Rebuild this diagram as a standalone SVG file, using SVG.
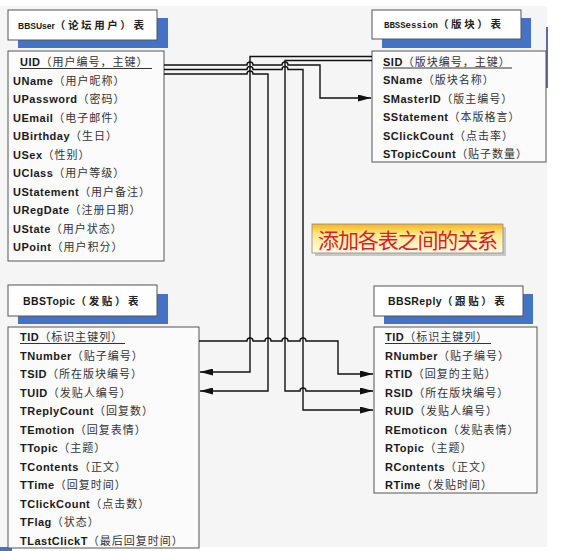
<svg xmlns="http://www.w3.org/2000/svg" width="565" height="551" viewBox="0 0 565 551">
<style>
.bg{fill:#f5f5f5}
.shadow{fill:#4472c4}
.tbox{fill:#ffffff;stroke:#555555;stroke-width:1}
.fbox{fill:#fbfbfb;stroke:#555555;stroke-width:1}
.en{font-family:"Liberation Sans",Arial,sans-serif;font-weight:bold;font-size:11px;letter-spacing:0.5px;fill:#1a1a1a}
.zh{font-family:"Noto Sans CJK SC",sans-serif;font-size:11px;letter-spacing:1px;fill:#333333}
.ten{font-family:"Liberation Sans",Arial,sans-serif;font-weight:bold;fill:#1a1a1a}
.tzh{font-family:"Noto Sans CJK SC",sans-serif;font-weight:bold;font-size:10.5px;letter-spacing:2.6px;fill:#222222}
.ul{stroke:#333333;stroke-width:1}
.conn{fill:none;stroke:#111111;stroke-width:1.4}
.callout{font-family:"Noto Sans CJK SC",sans-serif;font-size:21px;fill:#d41f30}
</style>
<defs>
<marker id="arr" markerUnits="userSpaceOnUse" markerWidth="13" markerHeight="7" refX="13" refY="3.5" orient="auto">
<path d="M0,0 L13,3.5 L0,7 z" fill="#111111"/>
</marker>
<linearGradient id="cg" x1="0" y1="0" x2="0" y2="1">
<stop offset="0" stop-color="#f6b31c"/>
<stop offset="0.35" stop-color="#fde98a"/>
<stop offset="1" stop-color="#fffbe6"/>
</linearGradient>
</defs>
<rect class="bg" x="0" y="6" width="547" height="541"/>
<line x1="547" y1="27" x2="547" y2="88" stroke="#2a3a90" stroke-width="1.5"/>
<rect x="0" y="547" width="12" height="4" fill="#3c78c8"/>

<g id="BBSUser">
<rect class="shadow" x="18" y="18" width="150" height="30"/>
<rect class="tbox" x="8" y="10" width="149" height="30"/>
<text x="18" y="29"><tspan class="ten" font-size="8.5px">BBSUser</tspan><tspan class="tzh">（论坛用户）表</tspan></text>
<rect class="fbox" x="8" y="51" width="156" height="210"/>
<text x="20" y="66"><tspan class="en">UID</tspan><tspan class="zh">（用户编号，主键）</tspan></text>
<line class="ul" x1="20" y1="68.5" x2="152" y2="68.5"/>
<text x="13" y="84.5"><tspan class="en">UName</tspan><tspan class="zh">（用户昵称）</tspan></text>
<text x="13" y="103"><tspan class="en">UPassword</tspan><tspan class="zh">（密码）</tspan></text>
<text x="13" y="121.5"><tspan class="en">UEmail</tspan><tspan class="zh">（电子邮件）</tspan></text>
<text x="13" y="140"><tspan class="en">UBirthday</tspan><tspan class="zh">（生日）</tspan></text>
<text x="13" y="158.5"><tspan class="en">USex</tspan><tspan class="zh">（性别）</tspan></text>
<text x="13" y="177"><tspan class="en">UClass</tspan><tspan class="zh">（用户等级）</tspan></text>
<text x="13" y="195.5"><tspan class="en">UStatement</tspan><tspan class="zh">（用户备注）</tspan></text>
<text x="13" y="214"><tspan class="en">URegDate</tspan><tspan class="zh">（注册日期）</tspan></text>
<text x="13" y="232.5"><tspan class="en">UState</tspan><tspan class="zh">（用户状态）</tspan></text>
<text x="13" y="251"><tspan class="en">UPoint</tspan><tspan class="zh">（用户积分）</tspan></text>
</g>

<g id="BBSSession">
<rect class="shadow" x="382" y="18" width="149" height="30"/>
<rect class="tbox" x="372" y="10" width="149" height="29"/>
<text x="384" y="28"><tspan font-family="'Liberation Mono',monospace" font-weight="bold" font-size="9px" fill="#1a1a1a">BBSSession</tspan><tspan class="tzh">（版块）表</tspan></text>
<rect class="fbox" x="372" y="51" width="174" height="111"/>
<text x="383" y="65.5"><tspan class="en">SID</tspan><tspan class="zh">（版块编号，主键）</tspan></text>
<line class="ul" x1="383" y1="68" x2="512" y2="68"/>
<text x="383" y="84"><tspan class="en">SName</tspan><tspan class="zh">（版块名称）</tspan></text>
<text x="383" y="102.5"><tspan class="en">SMasterID</tspan><tspan class="zh">（版主编号）</tspan></text>
<text x="383" y="121"><tspan class="en">SStatement</tspan><tspan class="zh">（本版格言）</tspan></text>
<text x="383" y="139.5"><tspan class="en">SClickCount</tspan><tspan class="zh">（点击率）</tspan></text>
<text x="383" y="158"><tspan class="en">STopicCount</tspan><tspan class="zh">（贴子数量）</tspan></text>
</g>

<g id="callout">
<rect x="315" y="227" width="191" height="29" fill="#c8c8c8"/>
<rect x="312" y="224" width="191" height="29" fill="url(#cg)" stroke="#8a8a8a" stroke-width="0.8"/>
<text class="callout" x="318" y="248" textLength="180" lengthAdjust="spacing">添加各表之间的关系</text>
</g>

<g id="BBSTopic">
<rect class="shadow" x="18" y="294" width="150" height="30"/>
<rect class="tbox" x="8" y="285" width="149" height="31"/>
<text x="23" y="305"><tspan class="ten" font-size="10.5px" letter-spacing="0.4px">BBSTopic</tspan><tspan class="tzh">（发贴）表</tspan></text>
<rect class="fbox" x="8" y="327" width="191" height="221"/>
<text x="20" y="341"><tspan class="en">TID</tspan><tspan class="zh">（标识主键列）</tspan></text>
<line class="ul" x1="20" y1="343.5" x2="125" y2="343.5"/>
<text x="20" y="359.5"><tspan class="en">TNumber</tspan><tspan class="zh">（贴子编号）</tspan></text>
<text x="20" y="378"><tspan class="en">TSID</tspan><tspan class="zh">（所在版块编号）</tspan></text>
<text x="20" y="396.5"><tspan class="en">TUID</tspan><tspan class="zh">（发贴人编号）</tspan></text>
<text x="20" y="415"><tspan class="en">TReplyCount</tspan><tspan class="zh">（回复数）</tspan></text>
<text x="20" y="433.5"><tspan class="en">TEmotion</tspan><tspan class="zh">（回复表情）</tspan></text>
<text x="20" y="452"><tspan class="en">TTopic</tspan><tspan class="zh">（主题）</tspan></text>
<text x="20" y="470.5"><tspan class="en">TContents</tspan><tspan class="zh">（正文）</tspan></text>
<text x="20" y="489"><tspan class="en">TTime</tspan><tspan class="zh">（回复时间）</tspan></text>
<text x="20" y="507.5"><tspan class="en">TClickCount</tspan><tspan class="zh">（点击数）</tspan></text>
<text x="20" y="526"><tspan class="en">TFlag</tspan><tspan class="zh">（状态）</tspan></text>
<text x="20" y="544.5"><tspan class="en">TLastClickT</tspan><tspan class="zh">（最后回复时间）</tspan></text>
</g>

<g id="BBSReply">
<rect class="shadow" x="384" y="294" width="149" height="30"/>
<rect class="tbox" x="374" y="286" width="149" height="30"/>
<text x="388" y="305"><tspan class="ten" font-size="10.5px" letter-spacing="0.4px">BBSReply</tspan><tspan class="tzh">（跟贴）表</tspan></text>
<rect class="fbox" x="374" y="327" width="163" height="166"/>
<text x="385" y="341"><tspan class="en">TID</tspan><tspan class="zh">（标识主键列）</tspan></text>
<line class="ul" x1="385" y1="343.5" x2="491" y2="343.5"/>
<text x="385" y="359.5"><tspan class="en">RNumber</tspan><tspan class="zh">（贴子编号）</tspan></text>
<text x="385" y="378"><tspan class="en">RTID</tspan><tspan class="zh">（回复的主贴）</tspan></text>
<text x="385" y="396.5"><tspan class="en">RSID</tspan><tspan class="zh">（所在版块编号）</tspan></text>
<text x="385" y="415"><tspan class="en">RUID</tspan><tspan class="zh">（发贴人编号）</tspan></text>
<text x="385" y="433.5"><tspan class="en">REmoticon</tspan><tspan class="zh">（发贴表情）</tspan></text>
<text x="385" y="452"><tspan class="en">RTopic</tspan><tspan class="zh">（主题）</tspan></text>
<text x="385" y="470.5"><tspan class="en">RContents</tspan><tspan class="zh">（正文）</tspan></text>
<text x="385" y="489"><tspan class="en">RTime</tspan><tspan class="zh">（发贴时间）</tspan></text>
</g>

<g id="connectors">
<path class="conn" marker-end="url(#arr)" d="M372,56.5 H250 V372 H200"/>
<path class="conn" marker-end="url(#arr)" d="M372,60.5 H285 V391 H300 A3,3 0 0 1 306,391 H373"/>
<path class="conn" marker-end="url(#arr)" d="M164,65 H247 A3,3 0 0 1 253,65 H282 A3,3 0 0 1 288,65 H320 V98 H371"/>
<path class="conn" marker-end="url(#arr)" d="M164,69.5 H247 A3,3 0 0 1 253,69.5 H282 A3,3 0 0 1 288,69.5 H303 V410 H373"/>
<path class="conn" marker-end="url(#arr)" d="M164,74 H247 A3,3 0 0 1 253,74 H268 V391 H200"/>
<path class="conn" marker-end="url(#arr)" d="M199,341 H247 A3,3 0 0 1 253,341 H265 A3,3 0 0 1 271,341 H282 A3,3 0 0 1 288,341 H300 A3,3 0 0 1 306,341 H338 V374 H373"/>
</g>
</svg>
